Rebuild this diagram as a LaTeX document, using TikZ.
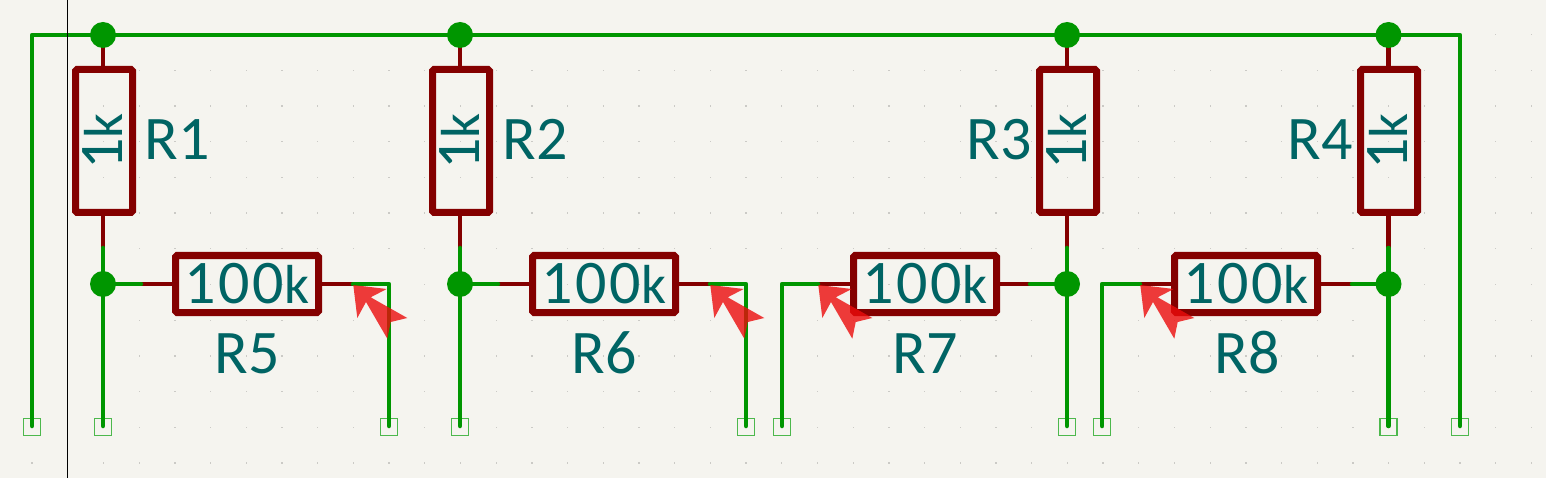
\documentclass[tikz,border=0pt]{standalone}
\usepackage{fontspec}
\newfontfamily\kifont[LetterSpace=4]{Carlito}
\newfontfamily\kirefont{Carlito}
\newcommand{\smallk}{{\fontsize{55}{55}\selectfont k}}
\definecolor{bgc}{HTML}{F5F4EF}
\definecolor{wirec}{HTML}{009600}
\definecolor{bodyc}{HTML}{840000}
\definecolor{textc}{HTML}{006464}
\definecolor{endc}{HTML}{4DB84D}
\definecolor{arrowc}{HTML}{EC0C0C}
\definecolor{gridc}{HTML}{CBCAC6}
\tikzset{
  wire/.style={draw=wirec,line width=4.5pt,line cap=round,line join=round},
  pinline/.style={draw=bodyc,line width=4.5pt},
  rbody/.style={draw=bodyc,line width=7pt,rounded corners=1.5pt,inner sep=0pt,outer sep=0pt},
  vbody/.style={rbody,minimum width=57pt,minimum height=143pt},
  hbody/.style={rbody,minimum width=143pt,minimum height=57pt},
  junction/.style={circle,fill=wirec,draw=none,minimum size=26pt,inner sep=0pt,outer sep=0pt},
  openend/.style={draw=endc,line width=1.2pt,minimum size=17pt,inner sep=0pt,outer sep=0pt},
  lbl/.style={text=textc,font=\kifont\fontsize{62}{62}\selectfont,inner sep=0pt,anchor=base},
  reflbl/.style={lbl,font=\kirefont\fontsize{62}{62}\selectfont},
  errmark/.style={fill=arrowc,fill opacity=.8,draw=none},
}
\newcommand{\errarrow}[1]{%
  \fill[errmark,shift={(#1)}] (0,0) -- (33.4,4) -- (17.4,12.3) -- (54,33) -- (37.4,37) -- (34,53.7) -- (12.7,17) -- (4,33) -- cycle;}
\begin{document}
\begin{tikzpicture}[x=1pt,y=-1pt]
\useasboundingbox (0,0) rectangle (1546,478);
\fill[bgc] (0,0) rectangle (1546,478);
% grid
\foreach \i in {0,...,42}{\foreach \j in {0,...,12}{
  \fill[gridc] ({32+35.7*\i-.6},{34.6+35.7*\j-.6}) rectangle ++(1.3,1.3);}}
% resistor bodies
\node[vbody] (R1) at (104,141) {};
\node[vbody] (R2) at (461,141) {};
\node[vbody] (R3) at (1068,141) {};
\node[vbody] (R4) at (1389,141) {};
\node[hbody] (R5) at (247,284) {};
\node[hbody] (R6) at (604,284) {};
\node[hbody] (R7) at (925,284) {};
\node[hbody] (R8) at (1246,284) {};
% junctions
\foreach \n/\x in {a/103,b/460,c/1067,d/1388.5}{
  \coordinate (top\n) at (\x,35);
  \coordinate (mid\n) at (\x,284);
  \coordinate (pin\n) at (\x,248);
}
% open ends
\foreach \n/\x in {e1/32,e2/103,e3/389,e4/460,e5/746,e6/782,e7/1067,e8/1102,e9/1388.5,e10/1460}{
  \node[openend] (\n) at (\x,427) {};
  \coordinate (\n w) at (\x,426);
}
% corners and wire/pin joints
\coordinate (tl) at (32,35); \coordinate (tr) at (1460,35);
\coordinate (c5) at (389,284); \coordinate (c6) at (746,284);
\coordinate (c7) at (782,284); \coordinate (c8) at (1102,284);
\coordinate (p5l) at (141,284); \coordinate (p5r) at (353,284);
\coordinate (p6l) at (498,284); \coordinate (p6r) at (710,284);
\coordinate (p7l) at (818,284); \coordinate (p7r) at (1030,284);
\coordinate (p8l) at (1140,284); \coordinate (p8r) at (1352,284);
% pins
\foreach \r/\n in {R1/a,R2/b,R3/c,R4/d}{
  \draw[pinline] (top\n) -- (top\n |- \r.north);
  \draw[pinline] (pin\n) -- (pin\n |- \r.south);
}
\draw[pinline] (p5l) -- (R5.west); \draw[pinline] (R5.east) -- (p5r);
\draw[pinline] (p6l) -- (R6.west); \draw[pinline] (R6.east) -- (p6r);
\draw[pinline] (p7l) -- (R7.west); \draw[pinline] (R7.east) -- (p7r);
\draw[pinline] (p8l) -- (R8.west); \draw[pinline] (R8.east) -- (p8r);
% wires
\draw[wire] (e1w) -- (tl) -- (tr) -- (e10w);
\draw[wire] (pina) -- (e2w);
\draw[wire] (pinb) -- (e4w);
\draw[wire] (pinc) -- (e7w);
\draw[wire] (pind) -- (e9w);
\draw[wire] (mida) -- (p5l);
\draw[wire] (midb) -- (p6l);
\draw[wire] (midc) -- (p7r);
\draw[wire] (midd) -- (p8r);
\draw[wire] (p5r) -- (c5) -- (e3w);
\draw[wire] (p6r) -- (c6) -- (e5w);
\draw[wire] (p7l) -- (c7) -- (e6w);
\draw[wire] (p8l) -- (c8) -- (e8w);
\foreach \n in {a,b,c,d}{
  \node[junction] (Jt\n) at (top\n) {};
  \node[junction] (Jm\n) at (mid\n) {};
}
% cursor line
\draw[black,line width=1pt] (67.5,0) -- (67.5,478);
% labels
\node[reflbl] (tR1) at (177.5,160) {R1};
\node[reflbl] (tR2) at (535,160) {R2};
\node[reflbl] (tR3) at (999,160) {R3};
\node[reflbl] (tR4) at (1320,160) {R4};
\node[reflbl] (tR5) at (247,373) {R5};
\node[reflbl] (tR6) at (604,373) {R6};
\node[reflbl] (tR7) at (925,373) {R7};
\node[reflbl] (tR8) at (1247,373) {R8};
\foreach \x/\n in {122/a,479/b,1086/c,1407/d}{
  \node[lbl,rotate=90] (v\n) at (\x,141.5) {1\smallk};
}
\foreach \x/\n in {247/a,604/b,925/c,1246/d}{
  \node[lbl] (h\n) at (\x,303) {100\smallk};
}
% error markers
\errarrow{353.3,285}
\errarrow{710.3,285}
\errarrow{818.3,285}
\errarrow{1140.3,285}
\end{tikzpicture}
\end{document}
